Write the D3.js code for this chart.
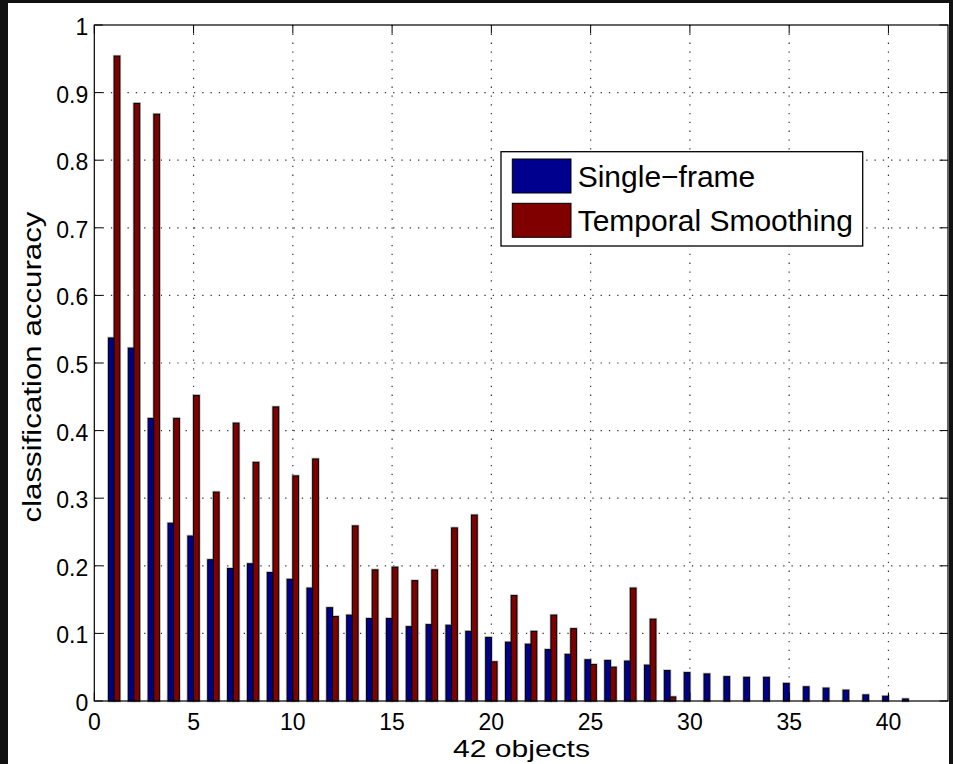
<!DOCTYPE html>
<html>
<head>
<meta charset="utf-8">
<script src="https://cdn.jsdelivr.net/npm/d3@7"></script>
<style>
  html, body { margin: 0; padding: 0; background: #111; }
  svg { display: block; font-family: "Liberation Sans", Arial, Helvetica, sans-serif; }
</style>
</head>
<body>
<svg id="chart"></svg>
<script>
// data, objects 1..42
const objects = d3.range(1, 43);
const singleFrame = [0.537, 0.522, 0.418, 0.263, 0.244, 0.209, 0.196, 0.203, 0.190, 0.180,
                     0.167, 0.138, 0.127, 0.122, 0.122, 0.110, 0.113, 0.112, 0.103, 0.094,
                     0.087, 0.084, 0.076, 0.069, 0.061, 0.060, 0.059, 0.053, 0.045, 0.042,
                     0.040, 0.036, 0.035, 0.035, 0.026, 0.021, 0.019, 0.016, 0.009, 0.007,
                     0.003, 0.000];
const temporal = [0.954, 0.884, 0.868, 0.418, 0.452, 0.309, 0.411, 0.353, 0.435, 0.333,
                  0.358, 0.125, 0.259, 0.194, 0.198, 0.178, 0.194, 0.256, 0.275, 0.058,
                  0.156, 0.103, 0.127, 0.107, 0.054, 0.050, 0.167, 0.121, 0.006, 0,
                  0, 0, 0, 0, 0, 0, 0, 0, 0, 0, 0, 0];
const seriesNames = ["Single\u2212frame", "Temporal Smoothing"];
const seriesColors = ["#00008f", "#800000"];
const xTicks = [0, 5, 10, 15, 20, 25, 30, 35, 40];
const yTicks = [0, 0.1, 0.2, 0.3, 0.4, 0.5, 0.6, 0.7, 0.8, 0.9, 1];
const yTickLabels = ["0", "0.1", "0.2", "0.3", "0.4", "0.5", "0.6", "0.7", "0.8", "0.9", "1"];

const width = 953, height = 764;
const plotL = 94.3, plotR = 948, plotT = 25, plotB = 701;

const svg = d3.select("#chart").attr("width", width).attr("height", height);

// white figure area (dark frame around like the screenshot)
svg.append("rect").attr("x", 8).attr("y", 3).attr("width", 941).attr("height", height - 3).attr("fill", "#fff");

const x = d3.scaleLinear().domain([0, 43]).range([plotL, plotR]);
const y = d3.scaleLinear().domain([0, 1]).range([plotB, plotT]);
// offset of each series inside a group, in x units (matlab grouped bar)
const offset = d3.scaleBand().domain([0, 1]).range([-0.286, 0.286]);

// grid
const grid = svg.append("g");
grid.selectAll(".hg")
    .data(yTicks.slice(1, -1))
    .enter()
    .append("line")
    .attr("x1", plotL).attr("x2", plotR)
    .attr("y1", d => y(d)).attr("y2", d => y(d))
    .attr("stroke", "#333").attr("stroke-width", 1.2)
    .attr("stroke-dasharray", "1.3,7");
grid.selectAll(".vg")
    .data(xTicks.slice(1))
    .enter()
    .append("line")
    .attr("x1", d => x(d)).attr("x2", d => x(d))
    .attr("y1", plotT).attr("y2", plotB)
    .attr("stroke", "#333").attr("stroke-width", 1.2)
    .attr("stroke-dasharray", "1.3,7.5");

// bars
const rows = [];
objects.forEach((o, i) => {
    rows.push({ obj: o, s: 0, v: singleFrame[i] });
    rows.push({ obj: o, s: 1, v: temporal[i] });
});

const bars = svg.append("g");
// soft grey halo like the antialiased original
bars.selectAll(".halo")
    .data(rows.filter(d => d.v > 0))
    .enter()
    .append("rect")
    .attr("x", d => x(d.obj + offset(d.s)))
    .attr("width", d => x(d.obj + offset(d.s) + offset.bandwidth()) - x(d.obj + offset(d.s)))
    .attr("y", d => y(d.v))
    .attr("height", d => y(0) - y(d.v))
    .attr("fill", "none")
    .attr("stroke", "#bbb")
    .attr("stroke-width", 2.6);
bars.selectAll(".bar")
    .data(rows.filter(d => d.v > 0))
    .enter()
    .append("rect")
    .attr("x", d => x(d.obj + offset(d.s)))
    .attr("width", d => x(d.obj + offset(d.s) + offset.bandwidth()) - x(d.obj + offset(d.s)))
    .attr("y", d => y(d.v))
    .attr("height", d => y(0) - y(d.v))
    .attr("fill", d => seriesColors[d.s])
    .attr("stroke", "#000")
    .attr("stroke-width", 1);

// axes box
svg.append("rect")
    .attr("x", plotL).attr("y", plotT)
    .attr("width", plotR - plotL).attr("height", plotB - plotT)
    .attr("fill", "none").attr("stroke", "#000").attr("stroke-width", 1.2);

// ticks on all four sides, pointing in
const tk = 8.5;
const ticks = svg.append("g").attr("stroke", "#000").attr("stroke-width", 1);
xTicks.forEach(t => {
    ticks.append("line").attr("x1", x(t)).attr("x2", x(t)).attr("y1", plotB).attr("y2", plotB - tk);
    ticks.append("line").attr("x1", x(t)).attr("x2", x(t)).attr("y1", plotT).attr("y2", plotT + tk);
});
yTicks.forEach(t => {
    ticks.append("line").attr("x1", plotL).attr("x2", plotL + tk).attr("y1", y(t)).attr("y2", y(t));
    ticks.append("line").attr("x1", plotR).attr("x2", plotR - tk).attr("y1", y(t)).attr("y2", y(t));
});

// tick labels
svg.append("g").selectAll("text")
    .data(yTicks)
    .enter()
    .append("text")
    .attr("x", plotL - 6)
    .attr("y", d => y(d) + 10)
    .attr("text-anchor", "end")
    .attr("font-size", 23)
    .text((d, i) => yTickLabels[i]);

svg.append("g").selectAll("text")
    .data(xTicks)
    .enter()
    .append("text")
    .attr("x", d => x(d))
    .attr("y", plotB + 29)
    .attr("text-anchor", "middle")
    .attr("font-size", 23)
    .text(d => d);

// axis titles (the original is stretched a bit sideways)
svg.append("text")
    .attr("x", 521.5)
    .attr("y", 757)
    .attr("text-anchor", "middle")
    .attr("font-size", 24)
    .attr("textLength", 137)
    .attr("lengthAdjust", "spacingAndGlyphs")
    .text("42 objects");

svg.append("text")
    .attr("transform", "translate(41,367) rotate(-90)")
    .attr("text-anchor", "middle")
    .attr("font-size", 25)
    .attr("textLength", 311)
    .attr("lengthAdjust", "spacingAndGlyphs")
    .text("classification accuracy");

// legend
const legend = svg.append("g");
legend.append("rect")
    .attr("x", 501).attr("y", 151.7)
    .attr("width", 361.7).attr("height", 94.3)
    .attr("fill", "#fff").attr("stroke", "#000").attr("stroke-width", 1.3);
const items = legend.selectAll(".item")
    .data(seriesNames)
    .enter()
    .append("g")
    .attr("transform", (d, i) => `translate(0, ${i * 44.3})`);
items.append("rect")
    .attr("x", 512.3).attr("y", 159)
    .attr("width", 58.7).attr("height", 34)
    .attr("fill", (d, i) => seriesColors[i])
    .attr("stroke", "#000").attr("stroke-width", 1);
items.append("text")
    .attr("x", 577.7).attr("y", 187)
    .attr("font-size", 30)
    .text(d => d);
</script>
</body>
</html>
